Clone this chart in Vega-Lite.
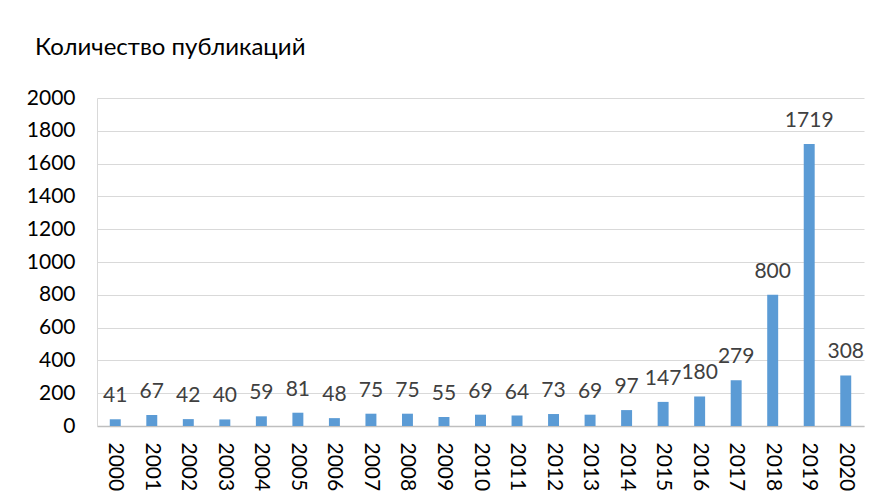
{
  "$schema": "https://vega.github.io/schema/vega-lite/v6.json",
  "width": 767,
  "height": 328,
  "autosize": {"type": "none"},
  "padding": {"left": 97, "top": 98, "right": 16, "bottom": 74},
  "background": "white",
  "config": {
    "font": "Lato",
    "view": {"stroke": null}
  },
  "title": {
    "text": "Количество публикаций",
    "anchor": "start",
    "frame": "group",
    "dx": -62,
    "offset": 8,
    "baseline": "alphabetic",
    "font": "Lato",
    "fontSize": 24,
    "fontWeight": "normal",
    "color": "#000000"
  },
  "data": {
    "values": [
      {"year": "2000", "count": 41},
      {"year": "2001", "count": 67},
      {"year": "2002", "count": 42},
      {"year": "2003", "count": 40},
      {"year": "2004", "count": 59},
      {"year": "2005", "count": 81},
      {"year": "2006", "count": 48},
      {"year": "2007", "count": 75},
      {"year": "2008", "count": 75},
      {"year": "2009", "count": 55},
      {"year": "2010", "count": 69},
      {"year": "2011", "count": 64},
      {"year": "2012", "count": 73},
      {"year": "2013", "count": 69},
      {"year": "2014", "count": 97},
      {"year": "2015", "count": 147},
      {"year": "2016", "count": 180},
      {"year": "2017", "count": 279},
      {"year": "2018", "count": 800},
      {"year": "2019", "count": 1719},
      {"year": "2020", "count": 308}
    ]
  },
  "encoding": {
    "x": {
      "field": "year",
      "type": "ordinal",
      "scale": {"paddingInner": 0.7, "paddingOuter": 0.35},
      "axis": {
        "title": null,
        "labelAngle": 90,
        "labelAlign": "left",
        "labelBaseline": "middle",
        "labelPadding": 16,
        "labelFontSize": 21,
        "labelColor": "#000000",
        "ticks": false,
        "domainColor": "#bfbfbf",
        "domainWidth": 1.5,
        "grid": false
      }
    },
    "y": {
      "field": "count",
      "type": "quantitative",
      "scale": {"domain": [0, 2000], "nice": false},
      "axis": {
        "title": null,
        "format": "d",
        "values": [0, 200, 400, 600, 800, 1000, 1200, 1400, 1600, 1800, 2000],
        "labelFontSize": 21,
        "labelColor": "#000000",
        "labelPadding": 22,
        "ticks": false,
        "domain": true,
        "domainColor": "#d9d9d9",
        "grid": true,
        "gridColor": "#d9d9d9",
        "gridWidth": 1.2
      }
    }
  },
  "layer": [
    {"mark": {"type": "bar", "color": "#5B9BD5"}},
    {
      "mark": {
        "type": "text",
        "baseline": "alphabetic",
        "dy": -17,
        "fontSize": 21,
        "color": "#404040"
      },
      "encoding": {"text": {"field": "count", "type": "quantitative", "format": "d"}}
    }
  ]
}
